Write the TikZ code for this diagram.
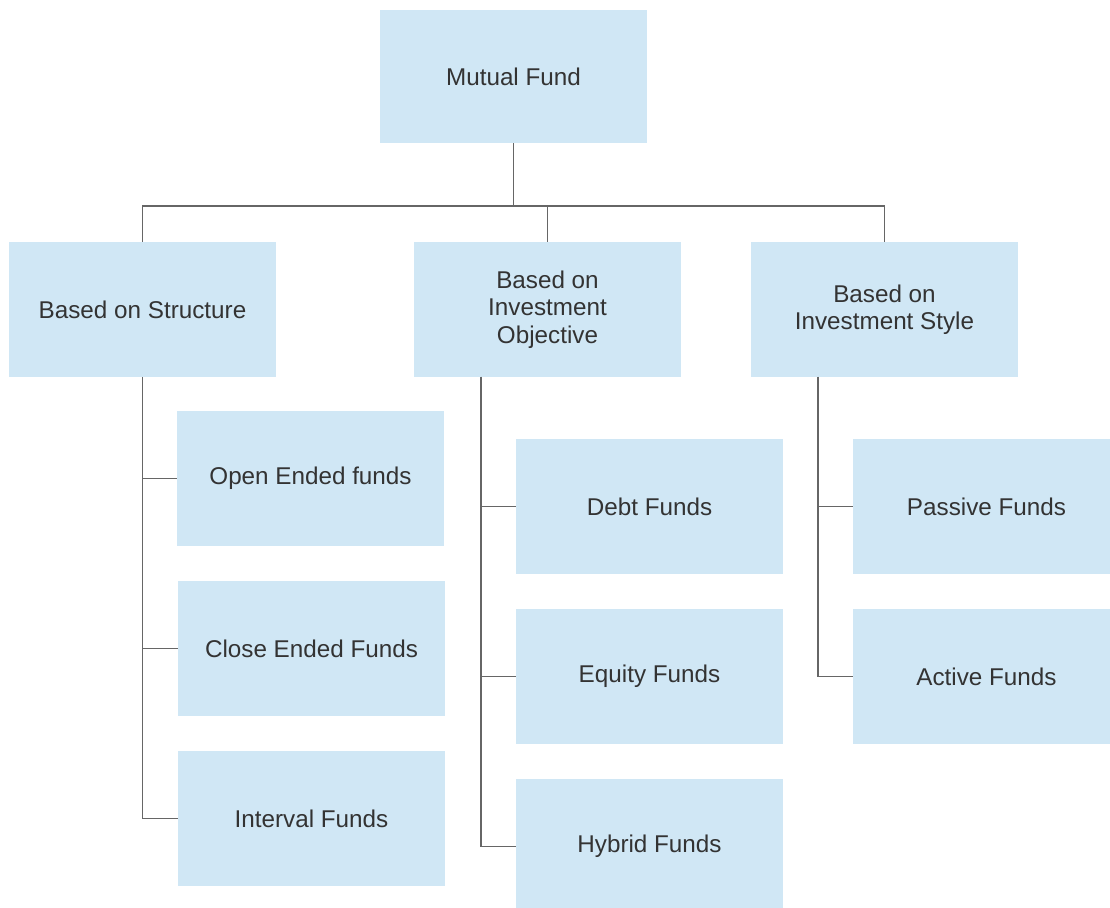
\documentclass[tikz,border=0pt]{standalone}
\usepackage{fontspec}
\setmainfont{Liberation Sans}
\definecolor{boxblue}{HTML}{D0E7F5}
\definecolor{txtgray}{HTML}{333333}
\definecolor{linegray}{HTML}{666666}

\begin{document}
\begin{tikzpicture}[x=0.02cm,y=-0.02cm,
    box/.style={fill=boxblue,minimum width=5.34cm,minimum height=2.7cm,align=center,
        text=txtgray,inner sep=0pt,font=\fontsize{13.8}{15.6}\selectfont},
    link/.style={draw=linegray,line width=1.1pt}]
                \useasboundingbox (0,0) rectangle (1110,908);
                \clip (0,0) rectangle (1110,908);
                \node[box,minimum height=2.66cm] (mf) at (513.5,76.5) {Mutual Fund};
                \node[box] (struct) at (142.5,309.5) {Based on Structure};
                \node[box] (obj) at (547.5,309.5) {Based on\\Investment\\Objective};
                \node[box] (style) at (884.5,309.5) {Based on\\Investment Style};
                \node[box] (open) at (310.5,478.5) {Open Ended funds};
                \node[box] (close) at (311.5,648.5) {Close Ended Funds};
                \node[box] (interval) at (311.5,818.5) {Interval Funds};
                \node[box] (debt) at (649.5,506.5) {Debt Funds};
                \node[box] (equity) at (649.5,676.5) {Equity Funds};
                \node[box] (hybrid) at (649.5,846.5) {Hybrid Funds};
                \node[box] (passive) at (986.5,506.5) {Passive Funds};
                \node[box] (active) at (986.5,676.5) {Active Funds};
                \coordinate (hub) at (513.5,206);
                \coordinate (objtrunk) at (481,377);
                \coordinate (styletrunk) at (818,377);
                \draw[link] (mf) -- (hub);
                \draw[link] (struct.north) |- (hub);
                \draw[link] (obj.north) |- (hub);
                \draw[link] (style.north) |- (hub);
                \draw[link] (struct.south) |- (open.west);
                \draw[link] (struct.south) |- (close.west);
                \draw[link] (struct.south) |- (interval.west);
                \draw[link] (objtrunk) |- (debt.west);
                \draw[link] (objtrunk) |- (equity.west);
                \draw[link] (objtrunk) |- (hybrid.west);
                \draw[link] (styletrunk) |- (passive.west);
                \draw[link] (styletrunk) |- (active.west);
            \end{tikzpicture}
\end{document}
